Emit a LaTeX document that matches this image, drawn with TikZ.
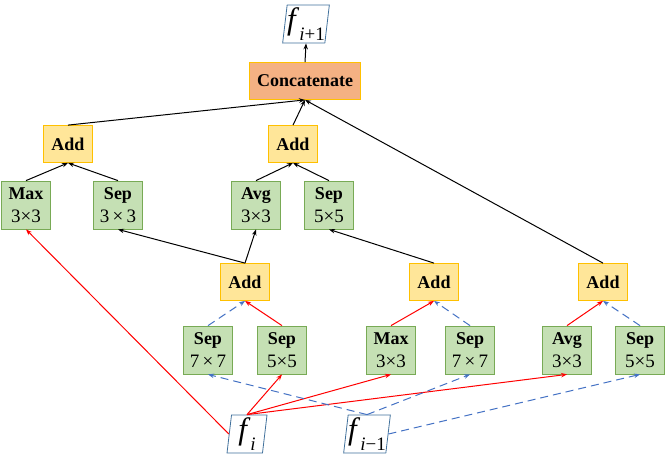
\documentclass[tikz,border=0pt]{standalone}
\usepackage{fontspec}
\setmainfont{Liberation Serif}
\usetikzlibrary{arrows.meta,shapes.geometric}

\definecolor{opfill}{RGB}{197,224,180}
\definecolor{opline}{RGB}{120,170,85}
\definecolor{addfill}{RGB}{255,230,153}
\definecolor{addline}{RGB}{255,192,0}
\definecolor{catfill}{RGB}{244,177,131}
\definecolor{featline}{RGB}{65,113,156}
\definecolor{prevline}{RGB}{68,114,196}

\tikzset{
    opbox/.style={draw=opline, fill=opfill, line width=0.8pt, minimum width=49pt, minimum height=48pt,
        inner sep=0pt, align=center, font=\fontsize{19}{23}\selectfont},
    addbox/.style={draw=addline, fill=addfill, line width=0.8pt, minimum width=49pt, minimum height=37pt,
        inner sep=0pt, font=\fontsize{18}{20}\selectfont\bfseries},
    catbox/.style={draw=addline, fill=catfill, line width=0.8pt, minimum width=111pt, minimum height=37pt,
        inner sep=0pt, font=\fontsize{18}{20}\selectfont\bfseries},
    feat/.style={trapezium, trapezium left angle=82, trapezium right angle=98, draw=featline, fill=white,
        line width=0.8pt, minimum width=40pt, minimum height=38pt, inner sep=0pt, trapezium stretches body},
    tip/.style={-{Stealth[length=6pt,width=4.5pt]}},
    blk/.style={tip, black, line width=1pt},
    cur/.style={tip, red, line width=1pt},
    prev/.style={tip, prevline, line width=1pt, dash pattern=on 8pt off 5pt},
}

\newcommand{\fmap}[1]{\fontsize{31}{31}\selectfont\textit{f}\raisebox{-0.33em}{\fontsize{19}{19}\selectfont #1}}
\newcommand{\opname}[1]{{\fontsize{18}{18}\selectfont\bfseries #1}}

\begin{document}
\begin{tikzpicture}[x=1pt, y=-1pt]
    \useasboundingbox (0,0) rectangle (666,459);

    % salida y concatenacion
    \node[feat] (fout) at (306,24) {\fmap{\textit{i}+1}};
    \node[catbox] (cat) at (305,81) {Concatenate};

    % primera fila de sumas
    \node[addbox] (add1) at (68,144) {Add};
    \node[addbox] (add2) at (293,144) {Add};

    \node[opbox] (max1) at (26,205) {\opname{Max}\\3×3};
    \node[opbox] (sep1) at (118,205) {\opname{Sep}\\3\,×\,3};
    \node[opbox] (avg1) at (256,205) {\opname{Avg}\\3×3};
    \node[opbox] (sep2) at (329,205) {\opname{Sep}\\5×5};

    % segunda fila de sumas
    \node[addbox] (add3) at (245,282) {Add};
    \node[addbox] (add4) at (434,282) {Add};
    \node[addbox] (add5) at (603,282) {Add};

    \node[opbox] (sep3) at (208,350) {\opname{Sep}\\7\,×\,7};
    \node[opbox] (sep4) at (282,350) {\opname{Sep}\\5×5};
    \node[opbox] (max2) at (391,350) {\opname{Max}\\3×3};
    \node[opbox] (sep5) at (470,350) {\opname{Sep}\\7\,×\,7};
    \node[opbox] (avg2) at (567,350) {\opname{Avg}\\3×3};
    \node[opbox] (sep6) at (640,350) {\opname{Sep}\\5×5};

    % entradas
    \node[feat] (fcur) at (247,434) {\fmap{\textit{i}}};
    \node[feat] (fprev) at (367,434) {\fmap{\textit{i}−1}};

    % conexiones negras
    \draw[blk] (cat.north) -- (fout.south);
    \draw[blk] (add1.north) -- (cat.south);
    \draw[blk] (add2.north) -- (cat.south);
    \draw[blk] (add5.north) -- (cat.south);
    \draw[blk] (max1.north) -- (add1.south);
    \draw[blk] (sep1.north) -- (add1.south);
    \draw[blk] (avg1.north) -- (add2.south);
    \draw[blk] (sep2.north) -- (add2.south);
    \draw[blk] (add3.north) -- (sep1.south);
    \draw[blk] (add3.north) -- (avg1.south);
    \draw[blk] (add4.north) -- (sep2.south);

    % operaciones hacia las sumas
    \draw[prev] (sep3.north) -- (add3.south);
    \draw[cur] (sep4.north) -- (add3.south);
    \draw[cur] (max2.north) -- (add4.south);
    \draw[prev] (sep5.north) -- (add4.south);
    \draw[cur] (avg2.north) -- (add5.south);
    \draw[prev] (sep6.north) -- (add5.south);

    % desde f_i (rojo)
    \draw[cur] (fcur.west) -- (max1.south);
    \draw[cur] (fcur.north) -- (sep4.south);
    \draw[cur] (fcur.north) -- (max2.south);
    \draw[cur] (fcur.north) -- (avg2.south);

    % desde f_{i-1} (azul discontinuo)
    \draw[prev] (fprev.north) -- (sep3.south);
    \draw[prev] (fprev.north) -- (sep5.south);
    \draw[prev] (fprev.east) -- (sep6.south);

\end{tikzpicture}
\end{document}
